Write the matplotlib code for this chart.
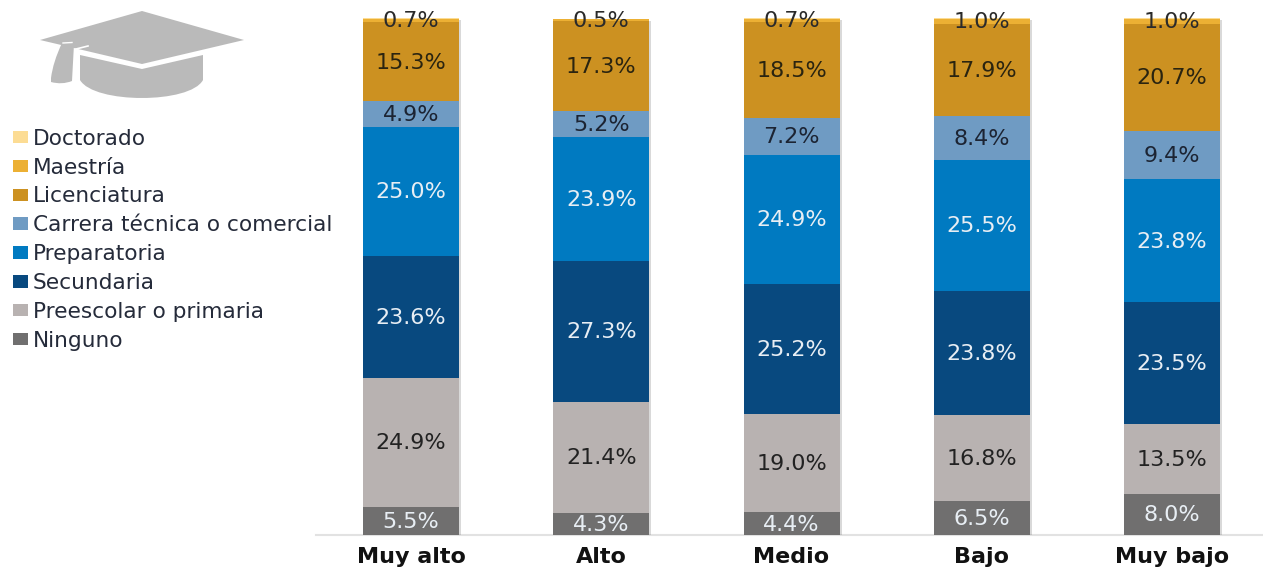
import matplotlib
matplotlib.use("Agg")
import matplotlib.pyplot as plt
import matplotlib.patheffects as pe
from matplotlib.patches import Polygon, Rectangle, PathPatch
from matplotlib.path import Path
import numpy as np

plt.rcParams['font.family'] = ['DejaVu Sans']

categories = ["Muy alto", "Alto", "Medio", "Bajo", "Muy bajo"]
levels = ["Ninguno", "Preescolar o primaria", "Secundaria", "Preparatoria",
          "Carrera técnica o comercial", "Licenciatura", "Maestría", "Doctorado"]
ninguno = [5.5, 4.3, 4.4, 6.5, 8.0]
preescolar = [24.9, 21.4, 19.0, 16.8, 13.5]
secundaria = [23.6, 27.3, 25.2, 23.8, 23.5]
preparatoria = [25.0, 23.9, 24.9, 25.5, 23.8]
carrera = [4.9, 5.2, 7.2, 8.4, 9.4]
licenciatura = [15.3, 17.3, 18.5, 17.9, 20.7]
maestria = [0.7, 0.5, 0.7, 1.0, 1.0]
doctorado = [0.1, 0.0, 0.1, 0.1, 0.1]
series = [ninguno, preescolar, secundaria, preparatoria, carrera, licenciatura, maestria, doctorado]
colors = ["#706f6f", "#b8b2b1", "#08497f", "#007ac1", "#6f9bc3", "#cc9121", "#ecb034", "#fcdc94"]
text_colors = ["#e8eef4", "#222222", "#e8eef4", "#e8eef4", "#1c2433", "#2a2410", "#2a2a2a", None]

W, H = 1263, 568
fig = plt.figure(figsize=(W/100, H/100), dpi=100, facecolor="white")
L, R, T, B = 316, 1263, 18, 535
ax = fig.add_axes([L/W, 1-B/H, (R-L)/W, (B-T)/H])
spacing = 190.25
ax.set_xlim((L-411)/spacing, (R-411)/spacing)
ax.set_ylim(0, 100.0)
x = np.arange(len(categories))

totals = np.sum(series, axis=0)
under = ax.bar(x, totals, width=96/spacing, color="white", linewidth=0, zorder=2)
for b in under:
    b.set_path_effects([pe.SimplePatchShadow(offset=(1.5, -1.5), alpha=0.22, shadow_rgbFace="#555555"), pe.Normal()])

bottom = np.zeros(len(categories))
for vals, c, tc in zip(series, colors, text_colors):
    vals = np.array(vals)
    ax.bar(x, vals, width=96/spacing, bottom=bottom, color=c, linewidth=0, zorder=3)
    if tc is not None:
        for xi, v, b0 in zip(x, vals, bottom):
            ax.annotate(f"{v:.1f}%", (xi, b0+v/2), xytext=(0, 0.8), textcoords="offset points",
                        ha="center", va="center_baseline", fontsize=16, color=tc, zorder=5)
    bottom += vals

for s in ["top", "left", "right"]:
    ax.spines[s].set_visible(False)
ax.spines["bottom"].set_color("#e2e2e2")
ax.spines["bottom"].set_linewidth(1.5)
ax.spines["bottom"].set_zorder(1)
ax.set_yticks([])
ax.set_xticks(x)
ax.set_xticklabels(categories, fontsize=16, fontweight="bold", color="#111111")
ax.tick_params(axis="x", length=0, pad=8.5)

# legend
handles = [Rectangle((0, 0), 1, 1, color=c, linewidth=0) for c in colors[::-1]]
leg = fig.legend(handles, levels[::-1], loc="upper left", bbox_to_anchor=(4.5/W, 1-120/H),
                 frameon=False, fontsize=15.6, handlelength=0.69, handleheight=0.5,
                 handletextpad=0.23, labelspacing=0.41, borderaxespad=0, borderpad=0.4,
                 labelcolor="#252b3a")

# graduation cap icon
overlay = fig.add_axes([0, 0, 1, 1], zorder=-1)
overlay.set_xlim(0, W); overlay.set_ylim(H, 0); overlay.axis("off")
grey = "#bababa"
overlay.add_patch(Polygon([(40, 40), (142, 11), (244, 40), (142, 64)], color=grey, lw=0))
overlay.add_patch(PathPatch(Path(
    [(80, 55), (142, 69), (203, 55), (203, 80), (190, 104), (94, 104), (80, 80), (80, 55)],
    [Path.MOVETO, Path.LINETO, Path.LINETO, Path.LINETO, Path.CURVE4, Path.CURVE4, Path.CURVE4, Path.CLOSEPOLY]),
    color=grey, lw=0))
overlay.add_patch(PathPatch(Path(
    [(62, 43), (74, 44), (72, 81), (62, 85), (51, 82), (51, 78), (53, 62), (62, 43), (62, 43)],
    [Path.MOVETO, Path.LINETO, Path.LINETO, Path.CURVE3, Path.CURVE3, Path.LINETO, Path.CURVE3, Path.CURVE3, Path.CLOSEPOLY]),
    color=grey, lw=0))
overlay.plot([76, 88], [49, 46], color="white", lw=1.2)
overlay.plot([63, 72], [43, 42.5], color="white", lw=1.0)

fig.savefig("out.png", dpi=100)
